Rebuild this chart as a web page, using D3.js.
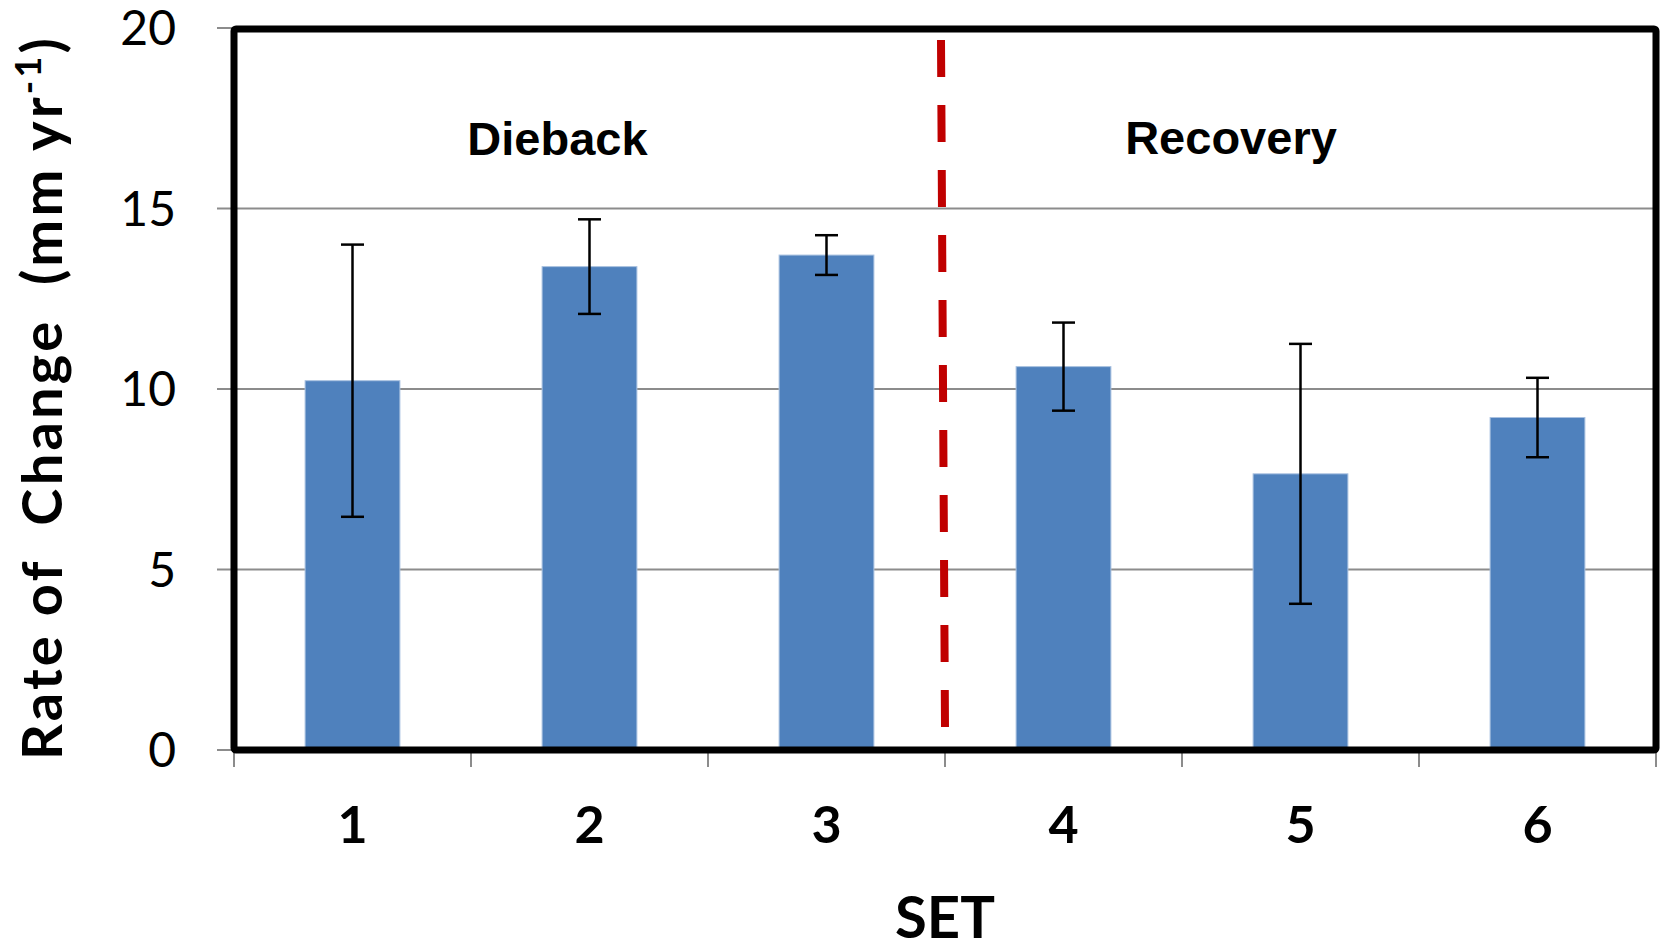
<!DOCTYPE html>
<html>
<head>
<meta charset="utf-8">
<script src="https://cdn.jsdelivr.net/npm/d3@7"></script>
<style>
  html, body { margin: 0; padding: 0; background: #fff; }
  svg { display: block; }
</style>
</head>
<body>
<svg id="chart" width="1662" height="942"></svg>
<script>
// Rate of change per SET station, with standard-error bars
const sets = ["1", "2", "3", "4", "5", "6"];
const rates = [10.23, 13.39, 13.71, 10.62, 7.65, 9.21];
const errors = [3.77, 1.31, 0.55, 1.22, 3.60, 1.10];
const yTicks = [0, 5, 10, 15, 20];
const phases = ["Dieback", "Recovery"];

const svg = d3.select("#chart");
const plot = { left: 234, right: 1656, top: 28, bottom: 750 };

const x = d3.scaleBand().domain(sets).range([plot.left, plot.right]).padding(0);
const y = d3.scaleLinear().domain([0, 20]).range([plot.bottom, plot.top]);
const barW = x.bandwidth() * 0.4;

// horizontal gridlines with short ticks left of the axis
svg.append("g")
  .selectAll("line")
  .data(yTicks.filter(d => d > 0 && d < 20))
  .join("line")
  .attr("x1", plot.left - 17)
  .attr("x2", plot.right)
  .attr("y1", d => y(d))
  .attr("y2", d => y(d))
  .attr("stroke", "#8c8c8c")
  .attr("stroke-width", 2);

// y tick marks at 0 and 20
svg.append("g")
  .selectAll("line")
  .data([0, 20])
  .join("line")
  .attr("x1", plot.left - 17)
  .attr("x2", plot.left)
  .attr("y1", d => y(d))
  .attr("y2", d => y(d))
  .attr("stroke", "#8c8c8c")
  .attr("stroke-width", 2);

// y tick labels
svg.append("g")
  .selectAll("text")
  .data(yTicks)
  .join("text")
  .attr("x", 176)
  .attr("y", d => y(d))
  .attr("dy", "0.36em")
  .attr("text-anchor", "end")
  .attr("font-family", "Lato, 'Open Sans', sans-serif")
  .attr("font-size", 48)
  .attr("fill", "#000")
  .text(d => d);

// bars
svg.append("g")
  .selectAll("rect")
  .data(sets)
  .join("rect")
  .attr("x", (d) => x(d) + (x.bandwidth() - barW) / 2)
  .attr("width", barW)
  .attr("y", (d, i) => y(rates[i]))
  .attr("height", (d, i) => y(0) - y(rates[i]))
  .attr("fill", "#4f81bd")
  .attr("stroke", "#a9c1e0")
  .attr("stroke-width", 1);

// error bars
const eb = svg.append("g").attr("stroke", "#000").attr("stroke-width", 2.5);
sets.forEach((d, i) => {
  const cx = x(d) + x.bandwidth() / 2;
  const hi = y(rates[i] + errors[i]);
  const lo = y(rates[i] - errors[i]);
  eb.append("line").attr("x1", cx).attr("x2", cx).attr("y1", hi).attr("y2", lo);
  eb.append("line").attr("x1", cx - 11.5).attr("x2", cx + 11.5).attr("y1", hi).attr("y2", hi);
  eb.append("line").attr("x1", cx - 11.5).attr("x2", cx + 11.5).attr("y1", lo).attr("y2", lo);
});

// x tick marks at category boundaries
const bounds = sets.map(d => x(d)).concat([x(sets[sets.length - 1]) + x.bandwidth()]);
svg.append("g")
  .selectAll("line")
  .data(bounds)
  .join("line")
  .attr("x1", d => d)
  .attr("x2", d => d)
  .attr("y1", plot.bottom)
  .attr("y2", plot.bottom + 17)
  .attr("stroke", "#8c8c8c")
  .attr("stroke-width", 2);

// plot frame
svg.append("rect")
  .attr("x", plot.left)
  .attr("y", plot.top + 1)
  .attr("width", plot.right - plot.left)
  .attr("height", plot.bottom - plot.top - 1)
  .attr("fill", "none")
  .attr("stroke", "#000")
  .attr("stroke-width", 7)
  .attr("rx", 2);

// separator between dieback and recovery phases
const sepX = x("4");
svg.append("line")
  .attr("x1", sepX - 4)
  .attr("x2", sepX)
  .attr("y1", 40)
  .attr("y2", 727)
  .attr("stroke", "#c00000")
  .attr("stroke-width", 8)
  .attr("stroke-dasharray", "37 28");

// phase labels
svg.append("text")
  .attr("x", x("2") + x.bandwidth() / 2 - 32)
  .attr("y", 155)
  .attr("text-anchor", "middle")
  .attr("font-family", "'Liberation Sans', Arial, sans-serif")
  .attr("font-weight", "bold")
  .attr("font-size", 47)
  .text(phases[0]);

svg.append("text")
  .attr("x", x("5") + 49)
  .attr("y", 154)
  .attr("text-anchor", "middle")
  .attr("font-family", "'Liberation Sans', Arial, sans-serif")
  .attr("font-weight", "bold")
  .attr("font-size", 47)
  .text(phases[1]);

// x tick labels
svg.append("g")
  .selectAll("text")
  .data(sets)
  .join("text")
  .attr("x", d => x(d) + x.bandwidth() / 2)
  .attr("y", 843)
  .attr("text-anchor", "middle")
  .attr("font-family", "Lato, 'Open Sans', sans-serif")
  .attr("font-weight", "bold")
  .attr("font-size", 52)
  .text(d => d);

// x axis title
svg.append("text")
  .attr("x", (plot.left + plot.right) / 2)
  .attr("y", 938)
  .attr("text-anchor", "middle")
  .attr("font-family", "Lato, 'Open Sans', sans-serif")
  .attr("font-weight", "bold")
  .attr("font-size", 58)
  .text("SET");

// y axis title
const yt = svg.append("text")
  .attr("transform", "translate(62,399) rotate(-90)")
  .attr("text-anchor", "middle")
  .attr("font-family", "Lato, 'Open Sans', sans-serif")
  .attr("font-weight", "bold")
  .attr("font-size", 56)
  .attr("textLength", 722)
  .attr("lengthAdjust", "spacing")
  .style("white-space", "pre");
yt.append("tspan").text("Rate of  Change  (mm yr");
yt.append("tspan").attr("dy", -21).attr("font-size", 36).text("-1");
yt.append("tspan").attr("dy", 21).text(")");
</script>
</body>
</html>
